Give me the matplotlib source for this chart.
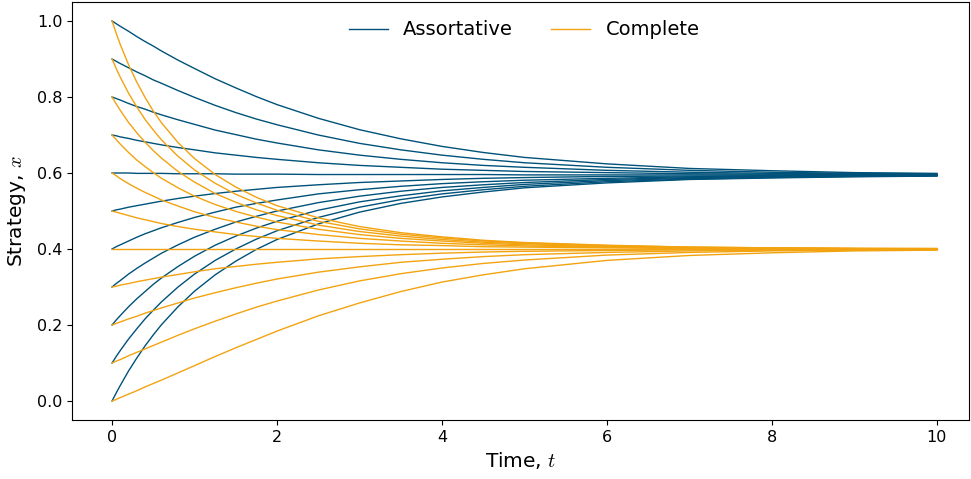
import numpy as np
import matplotlib
matplotlib.use("Agg")
import matplotlib.pyplot as plt

plt.rcParams["mathtext.fontset"] = "cm"

# time samples
t = [0, 0.05, 0.1, 0.2, 0.3, 0.4, 0.5, 0.6, 0.8, 1.0, 1.25, 1.5, 1.75, 2,
     2.5, 3, 3.5, 4, 4.5, 5, 6, 7, 8, 9, 10]

# Assortative trajectories, one row per starting strategy 0.0 .. 1.0
assortative = [
    [0.000, 0.021, 0.041, 0.079, 0.113, 0.145, 0.174, 0.201, 0.248, 0.289, 0.332, 0.368, 0.399, 0.425, 0.466, 0.497, 0.520, 0.537, 0.550, 0.561, 0.574, 0.583, 0.587, 0.590, 0.592],
    [0.100, 0.117, 0.133, 0.163, 0.190, 0.216, 0.239, 0.261, 0.300, 0.334, 0.370, 0.400, 0.426, 0.448, 0.483, 0.510, 0.530, 0.545, 0.556, 0.565, 0.577, 0.584, 0.588, 0.591, 0.593],
    [0.200, 0.213, 0.225, 0.248, 0.269, 0.288, 0.307, 0.324, 0.354, 0.381, 0.410, 0.434, 0.455, 0.473, 0.502, 0.524, 0.540, 0.553, 0.562, 0.570, 0.580, 0.586, 0.589, 0.592, 0.593],
    [0.300, 0.309, 0.317, 0.334, 0.349, 0.363, 0.376, 0.389, 0.411, 0.431, 0.452, 0.471, 0.486, 0.500, 0.522, 0.539, 0.552, 0.562, 0.569, 0.575, 0.583, 0.588, 0.591, 0.592, 0.593],
    [0.400, 0.406, 0.411, 0.421, 0.431, 0.440, 0.448, 0.456, 0.470, 0.483, 0.497, 0.510, 0.520, 0.529, 0.545, 0.556, 0.565, 0.572, 0.577, 0.581, 0.586, 0.590, 0.592, 0.593, 0.594],
    [0.500, 0.503, 0.505, 0.510, 0.514, 0.518, 0.522, 0.526, 0.533, 0.539, 0.546, 0.552, 0.557, 0.562, 0.569, 0.575, 0.579, 0.583, 0.586, 0.588, 0.591, 0.592, 0.593, 0.594, 0.594],
    [0.600, 0.600, 0.600, 0.600, 0.599, 0.599, 0.599, 0.599, 0.598, 0.598, 0.598, 0.597, 0.597, 0.597, 0.596, 0.596, 0.596, 0.596, 0.596, 0.595, 0.595, 0.595, 0.595, 0.595, 0.595],
    [0.700, 0.698, 0.695, 0.691, 0.686, 0.682, 0.678, 0.674, 0.667, 0.661, 0.653, 0.647, 0.641, 0.636, 0.627, 0.620, 0.615, 0.610, 0.607, 0.604, 0.601, 0.598, 0.597, 0.596, 0.596],
    [0.800, 0.796, 0.792, 0.783, 0.775, 0.768, 0.760, 0.753, 0.740, 0.728, 0.713, 0.701, 0.689, 0.679, 0.661, 0.647, 0.636, 0.627, 0.620, 0.615, 0.607, 0.602, 0.599, 0.598, 0.597],
    [0.900, 0.894, 0.888, 0.877, 0.866, 0.856, 0.845, 0.836, 0.817, 0.799, 0.778, 0.759, 0.742, 0.727, 0.700, 0.678, 0.661, 0.647, 0.636, 0.627, 0.615, 0.607, 0.602, 0.599, 0.598],
    [1.000, 0.993, 0.986, 0.973, 0.959, 0.946, 0.934, 0.921, 0.897, 0.875, 0.848, 0.824, 0.801, 0.780, 0.744, 0.714, 0.690, 0.670, 0.654, 0.641, 0.624, 0.612, 0.606, 0.601, 0.599],
]

# Complete trajectories, same starting strategies
complete = [
    [0.000, 0.004, 0.009, 0.018, 0.027, 0.037, 0.046, 0.055, 0.074, 0.093, 0.117, 0.140, 0.162, 0.184, 0.224, 0.258, 0.288, 0.313, 0.332, 0.348, 0.370, 0.383, 0.390, 0.395, 0.397],
    [0.100, 0.105, 0.109, 0.119, 0.128, 0.137, 0.146, 0.155, 0.173, 0.190, 0.210, 0.229, 0.247, 0.263, 0.292, 0.316, 0.335, 0.350, 0.362, 0.371, 0.384, 0.391, 0.395, 0.397, 0.398],
    [0.200, 0.204, 0.208, 0.216, 0.223, 0.231, 0.238, 0.245, 0.258, 0.271, 0.285, 0.298, 0.310, 0.321, 0.339, 0.353, 0.365, 0.373, 0.380, 0.385, 0.391, 0.395, 0.397, 0.398, 0.399],
    [0.300, 0.302, 0.305, 0.309, 0.314, 0.318, 0.322, 0.326, 0.333, 0.340, 0.348, 0.354, 0.360, 0.365, 0.374, 0.380, 0.385, 0.389, 0.392, 0.394, 0.396, 0.398, 0.399, 0.399, 0.400],
    [0.400, 0.400, 0.400, 0.400, 0.400, 0.400, 0.400, 0.400, 0.400, 0.400, 0.400, 0.400, 0.400, 0.400, 0.400, 0.400, 0.400, 0.400, 0.400, 0.400, 0.400, 0.400, 0.400, 0.400, 0.400],
    [0.500, 0.497, 0.494, 0.488, 0.482, 0.477, 0.472, 0.467, 0.459, 0.452, 0.445, 0.438, 0.433, 0.428, 0.421, 0.415, 0.411, 0.409, 0.406, 0.405, 0.403, 0.401, 0.401, 0.400, 0.400],
    [0.600, 0.593, 0.585, 0.572, 0.560, 0.549, 0.539, 0.529, 0.513, 0.498, 0.483, 0.471, 0.460, 0.451, 0.438, 0.428, 0.421, 0.415, 0.411, 0.408, 0.405, 0.403, 0.401, 0.401, 0.400],
    [0.700, 0.688, 0.676, 0.654, 0.634, 0.617, 0.601, 0.586, 0.561, 0.539, 0.517, 0.499, 0.484, 0.471, 0.452, 0.438, 0.428, 0.421, 0.415, 0.411, 0.406, 0.403, 0.402, 0.401, 0.401],
    [0.800, 0.782, 0.765, 0.733, 0.706, 0.681, 0.659, 0.639, 0.604, 0.576, 0.546, 0.523, 0.503, 0.488, 0.463, 0.446, 0.434, 0.425, 0.418, 0.414, 0.408, 0.404, 0.402, 0.401, 0.401],
    [0.900, 0.875, 0.852, 0.810, 0.774, 0.741, 0.713, 0.687, 0.644, 0.608, 0.573, 0.544, 0.521, 0.502, 0.473, 0.453, 0.439, 0.429, 0.421, 0.416, 0.409, 0.405, 0.403, 0.401, 0.401],
    [1.000, 0.968, 0.938, 0.885, 0.839, 0.799, 0.763, 0.732, 0.680, 0.638, 0.596, 0.563, 0.536, 0.514, 0.482, 0.459, 0.443, 0.432, 0.423, 0.417, 0.410, 0.405, 0.403, 0.402, 0.401],
]

blue = "#00527a"
orange = "#f2a30f"

fig = plt.figure(figsize=(9.71, 4.79), dpi=100)
ax = fig.add_axes([0.0742, 0.1232, 0.9238, 0.8726])

for i, row in enumerate(assortative):
    ax.plot(t, row, color=blue, lw=1.0, label="Assortative" if i == 0 else None)
for i, row in enumerate(complete):
    ax.plot(t, row, color=orange, lw=1.0, label="Complete" if i == 0 else None)

ax.set_xlim(-0.485, 10.39)
ax.set_ylim(-0.05, 1.05)
ax.set_xticks([0, 2, 4, 6, 8, 10])
ax.set_yticks([0.0, 0.2, 0.4, 0.6, 0.8, 1.0])
ax.tick_params(labelsize=11.5)
ax.set_xlabel("Time, $t$", fontsize=14.5, labelpad=4)
ax.set_ylabel("Strategy, $x$", fontsize=14.5, labelpad=6)

ax.legend(loc="upper center", ncol=2, frameon=False, fontsize=14,
          handlelength=2.0, columnspacing=1.95, bbox_to_anchor=(0.504, 0.998))

fig.savefig("out.png", dpi=100)
